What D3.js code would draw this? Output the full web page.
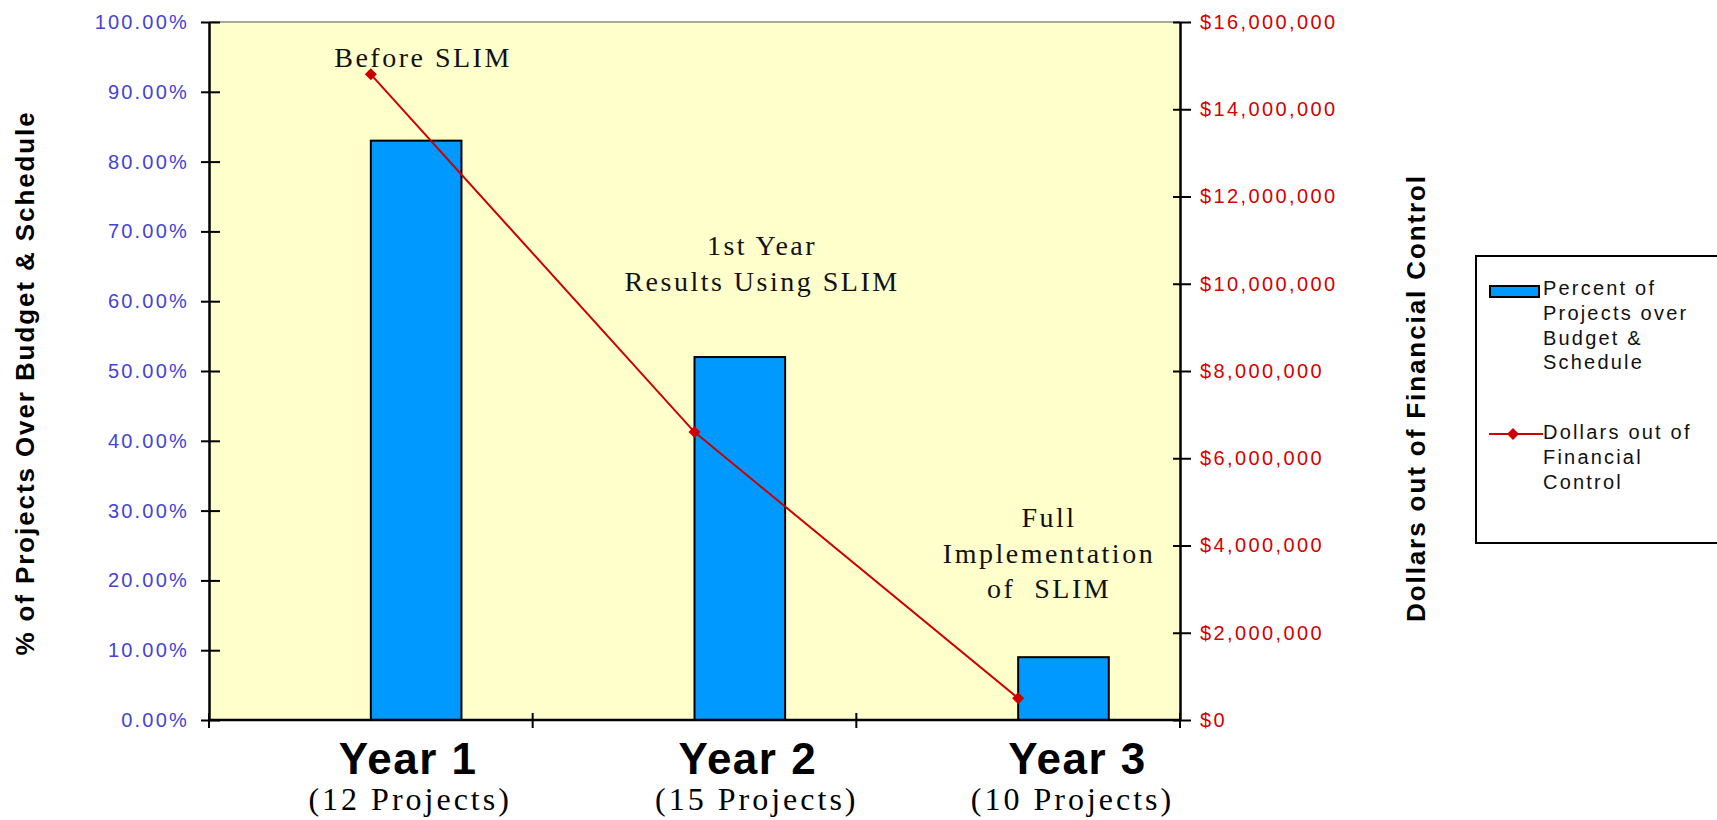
<!DOCTYPE html>
<html>
<head>
<meta charset="utf-8">
<script src="https://cdn.jsdelivr.net/npm/d3@7"></script>
<style>
  html, body { margin: 0; padding: 0; background: #ffffff; overflow: hidden; }
  svg { display: block; }
  .sans { font-family: "Liberation Sans", Arial, sans-serif; }
  .serif { font-family: "Liberation Serif", "Times New Roman", serif; }
</style>
</head>
<body>
<svg id="chart" width="1717" height="820"></svg>
<script>
// Project years, with the number of projects in each
const years = ["Year 1", "Year 2", "Year 3"];
const projectCounts = ["(12 Projects)", "(15 Projects)", "(10 Projects)"];
// Share of projects over budget & schedule (percent)
const pctOverBudget = [83, 52, 9];
// Dollars out of financial control
const dollarsOut = [14800000, 6600000, 500000];
// Axis tick values
const pctTicks = [0, 10, 20, 30, 40, 50, 60, 70, 80, 90, 100];
const dollarTicks = [0, 2000000, 4000000, 6000000, 8000000, 10000000, 12000000, 14000000, 16000000];
// Phase annotations above each year
const phaseNotes = [["Before SLIM"], ["1st Year", "Results Using SLIM"], ["Full", "Implementation", "of  SLIM"]];
const legendItems = [["Percent of", "Projects over", "Budget &", "Schedule"], ["Dollars out of", "Financial", "Control"]];

const svg = d3.select("#chart");
const plot = { left: 209, right: 1180, top: 22, bottom: 720 };

const x = d3.scaleBand().domain(years).range([plot.left, plot.right]).padding(0);
const yPct = d3.scaleLinear().domain([0, 100]).range([plot.bottom, plot.top]);
const yUsd = d3.scaleLinear().domain([0, 16000000]).range([plot.bottom, plot.top]);

const barW = x.bandwidth() * 0.28;
const mid = d => x(d) + x.bandwidth() / 2;

// Plot background
svg.append("rect")
  .attr("x", plot.left).attr("y", plot.top)
  .attr("width", plot.right - plot.left).attr("height", plot.bottom - plot.top)
  .attr("fill", "#ffffcc");
svg.append("line")
  .attr("x1", plot.left).attr("x2", plot.right)
  .attr("y1", plot.top).attr("y2", plot.top)
  .attr("stroke", "#8a8a8a").attr("stroke-width", 1.5);

// Bars
svg.append("g").selectAll("rect")
  .data(years)
  .join("rect")
  .attr("x", d => mid(d))
  .attr("y", (d, i) => yPct(pctOverBudget[i]))
  .attr("width", barW)
  .attr("height", (d, i) => yPct(0) - yPct(pctOverBudget[i]))
  .attr("fill", "#0099ff")
  .attr("stroke", "#000")
  .attr("stroke-width", 2);

// Left axis (percent)
const leftAxis = d3.axisLeft(yPct).tickValues(pctTicks)
  .tickFormat(d => d.toFixed(2) + "%").tickSizeInner(8).tickSizeOuter(0).tickPadding(12);
const gL = svg.append("g").attr("transform", `translate(${plot.left},0)`).call(leftAxis);
gL.select(".domain").attr("stroke", "#000").attr("stroke-width", 2.5);
gL.selectAll(".tick line").clone().attr("x2", 11);
gL.selectAll(".tick line").attr("stroke", "#000").attr("stroke-width", 2);
gL.selectAll(".tick text").attr("class", "sans").attr("font-size", 20)
  .attr("letter-spacing", 2.2).attr("fill", "#4343d6");

// Right axis (dollars)
const rightAxis = d3.axisRight(yUsd).tickValues(dollarTicks)
  .tickFormat(d => "$" + d3.format(",")(d)).tickSizeInner(11).tickSizeOuter(0).tickPadding(9);
const gR = svg.append("g").attr("transform", `translate(${plot.right},0)`).call(rightAxis);
gR.select(".domain").attr("stroke", "#000").attr("stroke-width", 2.5);
gR.selectAll(".tick line").clone().attr("x2", -7);
gR.selectAll(".tick line").attr("stroke", "#000").attr("stroke-width", 2);
gR.selectAll(".tick text").attr("class", "sans").attr("font-size", 20)
  .attr("letter-spacing", 2.4).attr("fill", "#d40000");

// Bottom axis with category dividers
const boundaries = years.map(d => x(d)).concat([plot.right]);
svg.append("line")
  .attr("x1", plot.left).attr("x2", plot.right)
  .attr("y1", plot.bottom).attr("y2", plot.bottom)
  .attr("stroke", "#000").attr("stroke-width", 2.5);
svg.append("g").selectAll("line")
  .data(boundaries)
  .join("line")
  .attr("x1", d => d).attr("x2", d => d)
  .attr("y1", plot.bottom - 7).attr("y2", plot.bottom + 8)
  .attr("stroke", "#000").attr("stroke-width", 2);

// Category labels, nudged slightly from the bar centres
const yearNudge = [-8, 8, 14];
const countNudge = [-6, 17, 9];
const barCenter = d => mid(d) + barW / 2;
svg.append("g").selectAll("text")
  .data(years)
  .join("text")
  .attr("class", "sans")
  .attr("x", (d, i) => barCenter(d) + yearNudge[i]).attr("y", 774)
  .attr("text-anchor", "middle")
  .attr("font-size", 44).attr("font-weight", "bold").attr("letter-spacing", 1.5)
  .attr("fill", "#000")
  .text(d => d);
svg.append("g").selectAll("text")
  .data(years)
  .join("text")
  .attr("class", "serif")
  .attr("x", (d, i) => barCenter(d) + countNudge[i]).attr("y", 810)
  .attr("text-anchor", "middle")
  .attr("font-size", 32).attr("letter-spacing", 3)
  .attr("fill", "#000")
  .text((d, i) => projectCounts[i]);

// Phase annotations
const noteAnchors = [
  { x: 423, y: 67 },
  { x: 762, y: 255 },
  { x: 1049, y: 527 }
];
phaseNotes.forEach((lines, i) => {
  const t = svg.append("text").attr("class", "serif")
    .attr("x", noteAnchors[i].x).attr("y", noteAnchors[i].y)
    .attr("text-anchor", "middle").attr("font-size", 28)
    .attr("letter-spacing", 2.5).attr("fill", "#111")
    .attr("xml:space", "preserve");
  lines.forEach((s, j) => t.append("tspan")
    .attr("x", noteAnchors[i].x).attr("dy", j === 0 ? 0 : 35.5).text(s));
});

// Dollars line with diamond markers
const line = d3.line().x((d, i) => mid(years[i])).y(d => yUsd(d));
svg.append("path")
  .datum(dollarsOut)
  .attr("d", line)
  .attr("fill", "none").attr("stroke", "#cc0000").attr("stroke-width", 2);
const diamond = d3.symbol().type(d3.symbolSquare).size(72);
svg.append("g").selectAll("path")
  .data(dollarsOut)
  .join("path")
  .attr("d", diamond)
  .attr("transform", (d, i) => `translate(${mid(years[i])},${yUsd(d)}) rotate(45)`)
  .attr("fill", "#cc0000");

// Axis titles
svg.append("text").attr("class", "sans")
  .attr("transform", "translate(34,383) rotate(-90)")
  .attr("text-anchor", "middle").attr("font-size", 26).attr("font-weight", "bold")
  .attr("letter-spacing", 1.9)
  .text("% of Projects Over Budget & Schedule");
svg.append("text").attr("class", "sans")
  .attr("transform", "translate(1425,398) rotate(-90)")
  .attr("text-anchor", "middle").attr("font-size", 26).attr("font-weight", "bold")
  .attr("letter-spacing", 1.9)
  .text("Dollars out of Financial Control");

// Legend
svg.append("rect")
  .attr("x", 1476).attr("y", 256).attr("width", 300).attr("height", 287)
  .attr("fill", "#fff").attr("stroke", "#000").attr("stroke-width", 2);
svg.append("rect")
  .attr("x", 1490).attr("y", 286).attr("width", 49).attr("height", 11)
  .attr("fill", "#0099ff").attr("stroke", "#000").attr("stroke-width", 2);
svg.append("line")
  .attr("x1", 1489).attr("x2", 1543).attr("y1", 434).attr("y2", 434)
  .attr("stroke", "#cc0000").attr("stroke-width", 2);
svg.append("path")
  .attr("d", diamond)
  .attr("transform", "translate(1513,434) rotate(45)")
  .attr("fill", "#cc0000");
const legendTop = [295, 439];
legendItems.forEach((lines, i) => {
  const t = svg.append("text").attr("class", "sans")
    .attr("x", 1543).attr("y", legendTop[i])
    .attr("font-size", 20).attr("letter-spacing", 2.2).attr("fill", "#111");
  lines.forEach((s, j) => t.append("tspan")
    .attr("x", 1543).attr("dy", j === 0 ? 0 : 24.8).text(s));
});
</script>
</body>
</html>
